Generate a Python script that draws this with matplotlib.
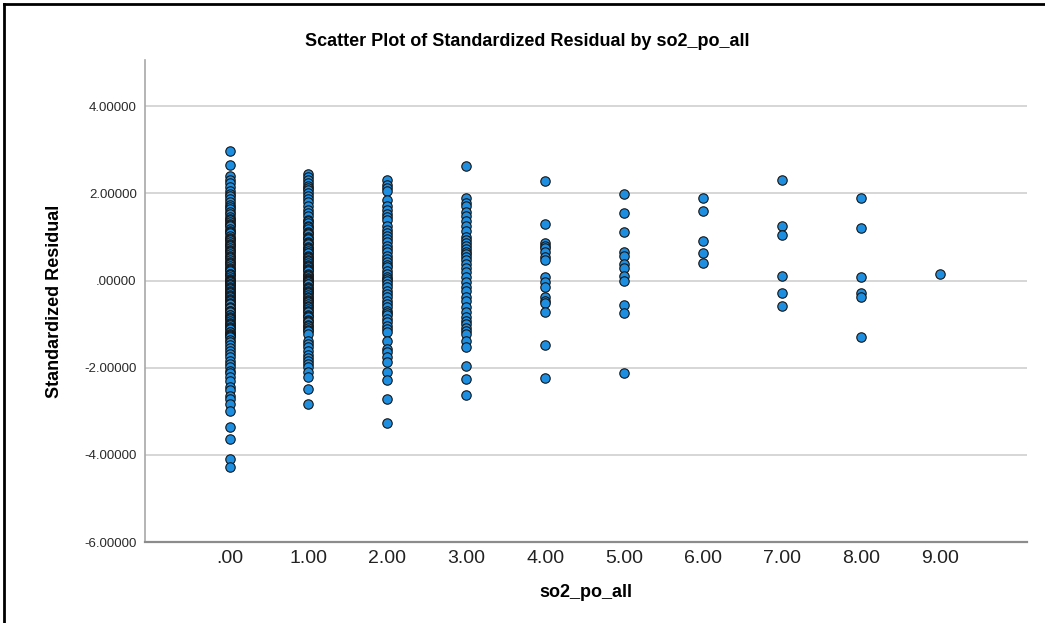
import numpy as np
import matplotlib.pyplot as plt
from matplotlib.lines import Line2D

# Standardized residuals grouped by so2_po_all value
res_0 = [2.97, 2.64, 2.39, 2.31, 2.24, 2.15, 2.05, 1.98, 1.93, 1.86, 1.80, 1.74, 1.68,
         1.63, 1.57, 1.52, 1.46, 1.42, 1.39, 1.35, 1.30, 1.27, 1.24, 1.19, 1.14, 1.11,
         1.08, 1.03, 0.98, 0.96, 0.93, 0.88, 0.84, 0.81, 0.79, 0.74, 0.70, 0.67, 0.65,
         0.61, 0.56, 0.54, 0.52, 0.47, 0.43, 0.40, 0.38, 0.34, 0.29, 0.27, 0.25, 0.21,
         0.16, 0.14, 0.12, 0.08, 0.04, 0.02, 0.00, -0.01, -0.03, -0.07, -0.09, -0.11,
         -0.16, -0.18, -0.20, -0.24, -0.27, -0.29, -0.33, -0.35, -0.37, -0.42, -0.44,
         -0.46, -0.51, -0.53, -0.55, -0.60, -0.62, -0.64, -0.69, -0.71, -0.73, -0.78,
         -0.80, -0.83, -0.87, -0.89, -0.92, -0.97, -0.99, -1.02, -1.07, -1.09, -1.12,
         -1.17, -1.19, -1.22, -1.25, -1.27, -1.30, -1.36, -1.42, -1.49, -1.55, -1.61,
         -1.68, -1.76, -1.84, -1.91, -1.99, -2.07, -2.12, -2.22, -2.30, -2.44, -2.52,
         -2.64, -2.73, -2.84, -2.99, -3.37, -3.64, -4.10, -4.29]
res_1 = [2.44, 2.37, 2.30, 2.24, 2.18, 2.12, 2.07, 2.00, 1.93, 1.87, 1.80, 1.71, 1.61,
         1.55, 1.48, 1.39, 1.36, 1.33, 1.26, 1.22, 1.19, 1.12, 1.09, 1.06, 1.00, 0.97,
         0.95, 0.89, 0.86, 0.84, 0.78, 0.75, 0.73, 0.67, 0.64, 0.62, 0.57, 0.54, 0.51,
         0.46, 0.44, 0.41, 0.36, 0.33, 0.31, 0.26, 0.23, 0.21, 0.16, 0.13, 0.11, 0.06,
         0.04, 0.02, 0.00, -0.01, -0.04, -0.07, -0.09, -0.14, -0.17, -0.19, -0.24, -0.27,
         -0.29, -0.34, -0.37, -0.39, -0.44, -0.47, -0.50, -0.55, -0.58, -0.61, -0.66,
         -0.69, -0.72, -0.78, -0.81, -0.84, -0.90, -0.93, -0.96, -1.02, -1.05, -1.09,
         -1.13, -1.16, -1.23, -1.38, -1.45, -1.53, -1.61, -1.72, -1.78, -1.84, -1.92,
         -1.99, -2.11, -2.22, -2.49, -2.84]
res_2 = [2.31, 2.20, 2.13, 2.05, 1.85, 1.70, 1.61, 1.53, 1.45, 1.38, 1.25, 1.15, 1.08,
         1.03, 0.95, 0.88, 0.80, 0.73, 0.65, 0.57, 0.50, 0.42, 0.36, 0.31, 0.22, 0.15,
         0.09, 0.04, -0.02, -0.08, -0.15, -0.23, -0.30, -0.38, -0.46, -0.54, -0.61,
         -0.69, -0.75, -0.80, -0.88, -0.96, -1.04, -1.11, -1.19, -1.38, -1.58, -1.65,
         -1.76, -1.88, -2.11, -2.28, -2.72, -3.28]
res_3 = [2.63, 1.89, 1.78, 1.70, 1.58, 1.47, 1.36, 1.26, 1.13, 1.01, 0.92, 0.86, 0.80,
         0.72, 0.65, 0.60, 0.54, 0.46, 0.38, 0.28, 0.19, 0.08, -0.04, -0.15, -0.25,
         -0.38, -0.46, -0.60, -0.73, -0.84, -0.92, -1.00, -1.08, -1.15, -1.23, -1.38,
         -1.52, -1.96, -2.26, -2.62]
res_4 = [2.28, 1.29, 0.86, 0.80, 0.75, 0.65, 0.54, 0.46, 0.08, -0.04, -0.14, -0.38,
         -0.46, -0.52, -0.73, -1.47, -2.23]
res_5 = [1.99, 1.55, 1.11, 0.65, 0.57, 0.38, 0.29, 0.11, 0.00, -0.57, -0.74, -2.12]
res_6 = [1.90, 1.59, 0.90, 0.64, 0.40]
res_7 = [2.31, 1.26, 1.04, 0.11, -0.28, -0.58]
res_8 = [1.89, 1.20, 0.09, -0.29, -0.38, -1.29]
res_9 = [0.14]

groups = [res_0, res_1, res_2, res_3, res_4, res_5, res_6, res_7, res_8, res_9]
x_ticks = list(range(10))
x_tick_labels = ['.00', '1.00', '2.00', '3.00', '4.00', '5.00', '6.00', '7.00', '8.00', '9.00']
y_ticks = [4, 2, 0, -2, -4, -6]
y_tick_labels = ['4.00000', '2.00000', '.00000', '-2.00000', '-4.00000', '-6.00000']

x = np.concatenate([np.full(len(g), i) for i, g in zip(x_ticks, groups)])
y = np.concatenate([np.array(g, dtype=float) for g in groups])

plt.rcParams['font.family'] = ['Liberation Sans', 'DejaVu Sans']

fig = plt.figure(figsize=(10.45, 6.23), dpi=100)
ax = fig.add_axes([0.1388, 0.130, 0.844, 0.7737])

ax.scatter(x, y, s=46, c='#1e8fe0', edgecolors='#151515', linewidths=0.8, zorder=3)

ax.set_xlim(-1.07, 10.1)
ax.set_ylim(-6, 5.06)
ax.set_yticks(y_ticks)
ax.set_yticklabels(y_tick_labels, fontsize=9.5, color='#2a2a2a')
ax.set_xticks(x_ticks)
ax.set_xticklabels(x_tick_labels, fontsize=14, color='#222222')
ax.tick_params(axis='both', length=0)
ax.tick_params(axis='y', pad=6)
ax.tick_params(axis='x', pad=6)
ax.yaxis.grid(True, color='#d0d0d0', linewidth=1.2, zorder=0)
ax.set_axisbelow(True)

for side in ['top', 'right']:
    ax.spines[side].set_visible(False)
ax.spines['left'].set_color('#a8a8a8')
ax.spines['left'].set_linewidth(1.2)
ax.spines['bottom'].set_color('#8c8c8c')
ax.spines['bottom'].set_linewidth(1.6)

ax.set_xlabel('so2_po_all', fontsize=13, fontweight='bold', labelpad=12)
ax.set_ylabel('Standardized Residual', fontsize=13, fontweight='bold')
ax.yaxis.set_label_coords(-0.093, 0.5)
fig.text(0.505, 0.934, 'Scatter Plot of Standardized Residual by so2_po_all',
         ha='center', va='center', fontsize=13, fontweight='bold')

# frame lines along the top and left edge
fig.add_artist(Line2D([0.004, 1.0], [0.9935, 0.9935], color='black', linewidth=2.0,
                      transform=fig.transFigure))
fig.add_artist(Line2D([0.004, 0.004], [0.0, 0.9935], color='black', linewidth=2.0,
                      transform=fig.transFigure))

fig.savefig('out.png', dpi=100)
